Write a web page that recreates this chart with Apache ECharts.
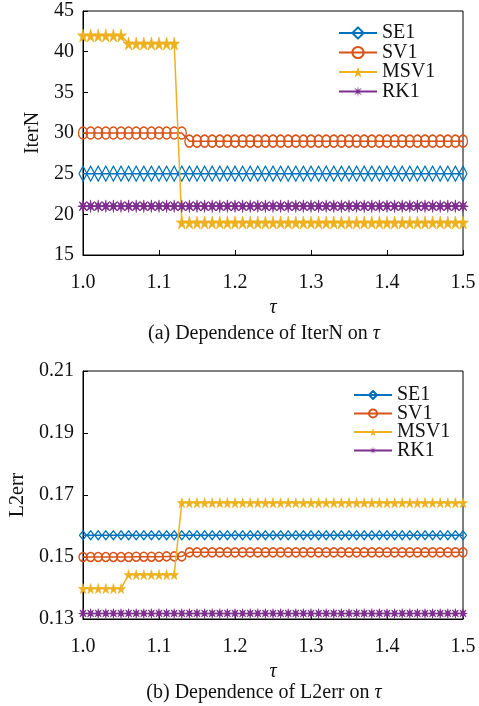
<!DOCTYPE html>
<html>
<head>
  <meta charset="utf-8">
  <title>IterN / L2err vs tau</title>
  <script src="https://cdn.jsdelivr.net/npm/echarts@6/dist/echarts.min.js"></script>
  <style>
    body { margin: 0; background: #fff; }
    .box { width: 479px; height: 353px; }
  </style>
</head>
<body>
<div id="top" class="box"></div>
<div id="bottom" class="box"></div>
<script type="text/javascript">
  // tau values (x axis)
  var tau = [1.00,1.01,1.02,1.03,1.04,1.05,1.06,1.07,1.08,1.09,
             1.10,1.11,1.12,1.13,1.14,1.15,1.16,1.17,1.18,1.19,
             1.20,1.21,1.22,1.23,1.24,1.25,1.26,1.27,1.28,1.29,
             1.30,1.31,1.32,1.33,1.34,1.35,1.36,1.37,1.38,1.39,
             1.40,1.41,1.42,1.43,1.44,1.45,1.46,1.47,1.48,1.49,1.50];

  var seriesNames = ['SE1', 'SV1', 'MSV1', 'RK1'];

  // (a) IterN
  var iterSE1 = [25,25,25,25,25,25,25,25,25,25, 25,25,25,25,25,25,25,25,25,25,
                 25,25,25,25,25,25,25,25,25,25, 25,25,25,25,25,25,25,25,25,25,
                 25,25,25,25,25,25,25,25,25,25,25];
  var iterSV1 = [30,30,30,30,30,30,30,30,30,30, 30,30,30,30,29,29,29,29,29,29,
                 29,29,29,29,29,29,29,29,29,29, 29,29,29,29,29,29,29,29,29,29,
                 29,29,29,29,29,29,29,29,29,29,29];
  var iterMSV1 = [42,42,42,42,42,42,41,41,41,41, 41,41,41,19,19,19,19,19,19,19,
                  19,19,19,19,19,19,19,19,19,19, 19,19,19,19,19,19,19,19,19,19,
                  19,19,19,19,19,19,19,19,19,19,19];
  var iterRK1 = [21,21,21,21,21,21,21,21,21,21, 21,21,21,21,21,21,21,21,21,21,
                 21,21,21,21,21,21,21,21,21,21, 21,21,21,21,21,21,21,21,21,21,
                 21,21,21,21,21,21,21,21,21,21,21];

  // (b) L2err
  var errSE1 = [0.157,0.157,0.157,0.157,0.157,0.157,0.157,0.157,0.157,0.157,
                0.157,0.157,0.157,0.157,0.157,0.157,0.157,0.157,0.157,0.157,
                0.157,0.157,0.157,0.157,0.157,0.157,0.157,0.157,0.157,0.157,
                0.157,0.157,0.157,0.157,0.157,0.157,0.157,0.157,0.157,0.157,
                0.157,0.157,0.157,0.157,0.157,0.157,0.157,0.157,0.157,0.157,0.157];
  var errSV1 = [0.1500,0.1500,0.1500,0.1500,0.1500,0.1500,0.1500,0.1501,0.1501,0.1501,
                0.1501,0.1502,0.1502,0.1502,0.1515,0.1515,0.1515,0.1515,0.1515,0.1515,
                0.1515,0.1515,0.1515,0.1515,0.1515,0.1515,0.1515,0.1515,0.1515,0.1515,
                0.1515,0.1515,0.1515,0.1515,0.1515,0.1515,0.1515,0.1515,0.1515,0.1515,
                0.1515,0.1515,0.1515,0.1515,0.1515,0.1515,0.1515,0.1515,0.1515,0.1515,0.1515];
  var errMSV1 = [0.1398,0.1398,0.1398,0.1398,0.1398,0.1398,0.1443,0.1443,0.1443,0.1443,
                 0.1443,0.1443,0.1443,0.1675,0.1675,0.1675,0.1675,0.1675,0.1675,0.1675,
                 0.1675,0.1675,0.1675,0.1675,0.1675,0.1675,0.1675,0.1675,0.1675,0.1675,
                 0.1675,0.1675,0.1675,0.1675,0.1675,0.1675,0.1675,0.1675,0.1675,0.1675,
                 0.1675,0.1675,0.1675,0.1675,0.1675,0.1675,0.1675,0.1675,0.1675,0.1675,0.1675];
  var errRK1 = [0.1318,0.1318,0.1318,0.1318,0.1318,0.1318,0.1318,0.1318,0.1318,0.1318,
                0.1318,0.1318,0.1318,0.1318,0.1318,0.1318,0.1318,0.1318,0.1318,0.1318,
                0.1318,0.1318,0.1318,0.1318,0.1318,0.1318,0.1318,0.1318,0.1318,0.1318,
                0.1318,0.1318,0.1318,0.1318,0.1318,0.1318,0.1318,0.1318,0.1318,0.1318,
                0.1318,0.1318,0.1318,0.1318,0.1318,0.1318,0.1318,0.1318,0.1318,0.1318,0.1318];

  var colors = ['#0072BD', '#D95319', '#EDB120', '#7E2F8E'];
  var FONT = '"Liberation Serif", "DejaVu Serif", serif';

  var STAR = 'path://M50,0 L61,35 L98,35 L68,57 L79,91 L50,70 L21,91 L32,57 L2,35 L39,35 Z';
  // 8-arm asterisk drawn as a thin filled star
  function asteriskPath() {
    var pts = [];
    for (var i = 0; i < 16; i++) {
      var a = Math.PI * i / 8 - Math.PI / 2;
      var r = (i % 2 === 0) ? 50 : 14;
      pts.push((50 + r * Math.cos(a)).toFixed(1) + ',' + (50 + r * Math.sin(a)).toFixed(1));
    }
    return 'path://M' + pts.join(' L') + ' Z';
  }
  var ASTER = asteriskPath();

  function pairs(ys) {
    return tau.map(function (t, i) { return [t, ys[i]]; });
  }

  function makeSeries(values, sizes) {
    var symbols = ['diamond', 'circle', STAR, ASTER];
    var fills = ['rgba(0,0,0,0)', 'rgba(0,0,0,0)', colors[2], colors[3]];
    var borders = [1.4, 1.5, 0.6, 1];
    return seriesNames.map(function (n, k) {
      return {
        name: n,
        type: 'line',
        data: pairs(values[k]),
        symbol: symbols[k],
        symbolSize: sizes[k],
        showAllSymbol: true,
        clip: false,
        lineStyle: { color: colors[k], width: 1.5 },
        itemStyle: {
          color: fills[k], borderColor: colors[k], borderWidth: borders[k],
          borderJoin: 'round'
        },
        emphasis: { disabled: true },
        z: 2 + k
      };
    });
  }

  function buildOption(cfg) {
    return {
      animation: false,
      textStyle: { fontFamily: FONT },
      grid: {
        left: 83, right: 16, top: cfg.top, height: cfg.height,
        show: true, borderColor: '#000', borderWidth: 1
      },
      legend: {
        data: [
          { name: 'SE1' },
          { name: 'SV1' },
          { name: 'MSV1', itemStyle: { borderWidth: 0 } },
          { name: 'RK1', itemStyle: { borderWidth: 0 } }
        ],
        orient: 'vertical',
        left: cfg.legendLeft,
        top: cfg.legendTop,
        itemWidth: 38,
        itemHeight: cfg.legendItemH,
        itemGap: cfg.legendGap,
        textStyle: { fontFamily: FONT, fontSize: 20, color: '#111' }
      },
      xAxis: {
        type: 'value',
        min: 1.0, max: 1.5, interval: 0.1,
        name: 'τ',
        nameLocation: 'middle',
        nameGap: cfg.xNameGap,
        nameTextStyle: { fontFamily: FONT, fontSize: 20, fontStyle: 'italic', color: '#111' },
        axisLine: { lineStyle: { color: '#000', width: 1 } },
        axisTick: { inside: true, length: 5, lineStyle: { color: '#000' } },
        axisLabel: {
          fontFamily: FONT, fontSize: 20, color: '#111', margin: 18,
          formatter: function (v) { return v.toFixed(1); }
        },
        splitLine: { show: false }
      },
      yAxis: {
        type: 'value',
        min: cfg.ymin, max: cfg.ymax, interval: cfg.yint,
        name: cfg.yname,
        nameLocation: 'middle',
        nameGap: cfg.nameGap,
        nameTextStyle: { fontFamily: FONT, fontSize: 20, color: '#111' },
        axisLine: { lineStyle: { color: '#000', width: 1 } },
        axisTick: { inside: true, length: 5, lineStyle: { color: '#000' } },
        axisLabel: {
          fontFamily: FONT, fontSize: 20, color: '#111', margin: 9,
          formatter: function (v) { return v.toFixed(cfg.dec); }
        },
        splitLine: { show: false }
      },
      graphic: [{
        type: 'text',
        style: {
          x: 264, y: cfg.captionY,
          text: cfg.caption,
          textAlign: 'center', textVerticalAlign: 'middle',
          font: '20px ' + FONT,
          fill: '#111',
          rich: { i: { fontStyle: 'italic', fontSize: 20, fontFamily: FONT } }
        }
      }],
      series: makeSeries(cfg.values, cfg.sizes)
    };
  }

  var topChart = echarts.init(document.getElementById('top'));
  topChart.setOption(buildOption({
    top: 11, height: 244,
    ymin: 15, ymax: 45, yint: 5, dec: 0,
    yname: 'IterN', nameGap: 38, xNameGap: 40,
    legendLeft: 333, legendTop: 18, legendItemH: 14, legendGap: -0.5,
    caption: '(a) Dependence of IterN on {i|τ}', captionY: 334,
    values: [iterSE1, iterSV1, iterMSV1, iterRK1],
    sizes: [[8, 15], [9, 12], [11, 13], [10, 12]]
  }));

  var bottomChart = echarts.init(document.getElementById('bottom'));
  bottomChart.setOption(buildOption({
    top: 18, height: 248,
    ymin: 0.13, ymax: 0.21, yint: 0.02, dec: 2,
    yname: 'L2err', nameGap: 54, xNameGap: 39,
    legendLeft: 348, legendTop: 27, legendItemH: 10, legendGap: -1.5,
    caption: '(b) Dependence of L2err on {i|τ}', captionY: 340,
    values: [errSE1, errSV1, errMSV1, errRK1],
    sizes: [[7, 9], [8, 9], [9, 10], [8, 9]]
  }));
</script>
</body>
</html>
